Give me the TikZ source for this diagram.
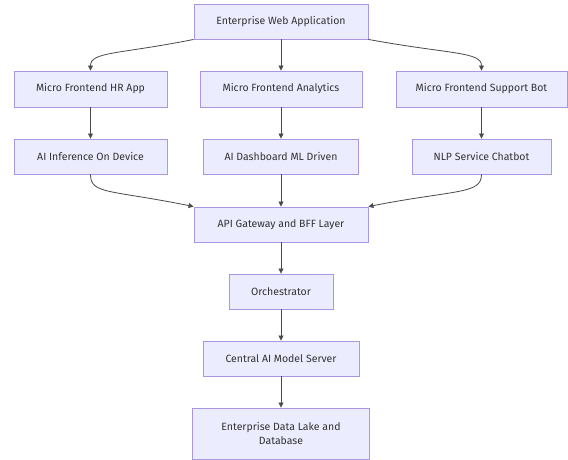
\documentclass[tikz,border=0pt]{standalone}
\usepackage{fontspec}
\setmainfont{Fira Sans}
\usetikzlibrary{arrows.meta,calc}
\definecolor{nodefill}{HTML}{ECECFF}
\definecolor{nodeline}{HTML}{A996E4}
\definecolor{txtcol}{HTML}{333333}
\definecolor{edgecol}{HTML}{4A4A4A}
\begin{document}
\begin{tikzpicture}[x=1pt,y=-1pt,
  box/.style={draw=nodeline, fill=nodefill, line width=0.9pt, text=txtcol,
    font=\fontsize{10.5}{14}\selectfont, inner sep=0pt, minimum height=35pt, align=center},
  arr/.style={draw=edgecol, line width=0.8pt, -{Triangle[length=5pt,width=5pt]}}]
\useasboundingbox[fill=white] (0,0) rectangle (568,460);
\node[box, minimum width=174pt] (web) at (281,21.5) {Enterprise Web Application};
\node[box, minimum width=153pt, minimum height=36pt] (hr) at (90.5,89) {Micro Frontend HR App};
\node[box, minimum width=162pt, minimum height=36pt] (ana) at (281,89) {Micro Frontend Analytics};
\node[box, minimum width=171pt, minimum height=36pt] (sup) at (481.5,89) {Micro Frontend Support Bot};
\node[box, minimum width=153pt] (inf) at (90.5,156.5) {AI Inference On Device};
\node[box, minimum width=155pt] (dash) at (281,156.5) {AI Dashboard ML Driven};
\node[box, minimum width=139pt] (nlp) at (481.5,156.5) {NLP Service Chatbot};
\node[box, minimum width=174pt] (api) at (281,224.5) {API Gateway and BFF Layer};
\node[box, minimum width=104pt] (orch) at (281,291.5) {Orchestrator};
\node[box, minimum width=156pt] (central) at (281,358.5) {Central AI Model Server};
\node[box, minimum width=177pt, minimum height=51pt] (lake) at (281,433.5) {Enterprise Data Lake and\\Database};

\draw[arr] (web.south west) .. controls +(-75,15) and +(0,-19) .. (hr.north);
\draw[arr] (web.south) -- (ana.north);
\draw[arr] (web.south east) .. controls +(82,15) and +(0,-19) .. (sup.north);
\draw[arr] (hr.south) -- (inf.north);
\draw[arr] (ana.south) -- (dash.north);
\draw[arr] (sup.south) -- (nlp.north);
\draw[arr] (inf.south) .. controls +(0,20) and +(-84,-17) .. (api.north west);
\draw[arr] (dash.south) -- (api.north);
\draw[arr] (nlp.south) .. controls +(0,20) and +(87,-17) .. (api.north east);
\draw[arr] (api.south) -- (orch.north);
\draw[arr] (orch.south) -- (central.north);
\draw[arr] (central.south) -- (lake.north);
\end{tikzpicture}
\end{document}
